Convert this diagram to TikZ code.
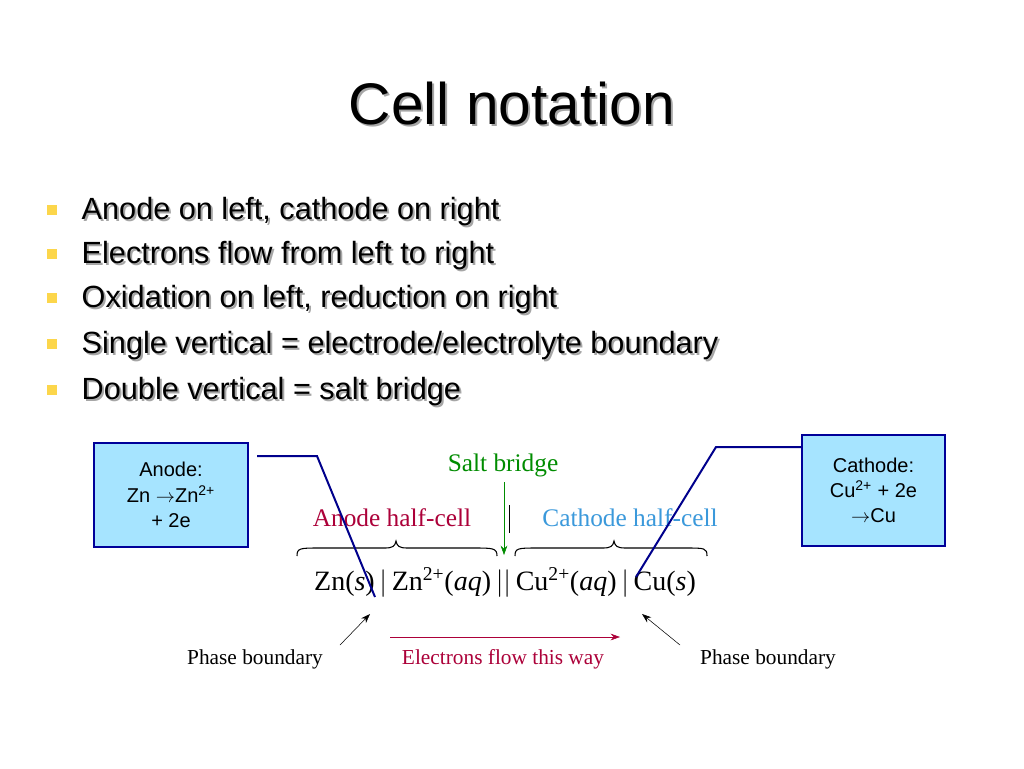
\documentclass[tikz,border=0pt]{standalone}
\usepackage{fontspec}
\setmainfont{Liberation Sans}
\newfontfamily\serifd{Liberation Serif}
\usetikzlibrary{arrows.meta}
\newcommand{\bulline}[3]{%
  \node[sq] (s#1) at (52,#2-2) {};
  \node[bul,shad] at (79,#2+1.5) {#3};
  \node[bul] (b#1) at (77,#2) {#3};}
\begin{document}
\begin{tikzpicture}[x=0.75pt,y=-0.75pt,>={Stealth[length=7pt,width=5pt]},
  shad/.style={text=black!35},
  bul/.style={anchor=west,font=\fontsize{23}{26}\selectfont},
  sq/.style={fill=yellow!60!orange!70,draw=none,minimum size=7pt,inner sep=0pt},
  box/.style={draw=blue!60!black,line width=1.5pt,fill=blue!30!cyan!35,align=center,font=\fontsize{15}{19}\selectfont,inner sep=0pt},
  conn/.style={draw=blue!55!black,line width=1.5pt},
  dtext/.style={font=\serifd\fontsize{21}{24}\selectfont},
  stext/.style={font=\serifd\fontsize{16}{19}\selectfont}]
\useasboundingbox (0,0) rectangle (1024,768);
\fill[white] (0,0) rectangle (1024,768);
\node[shad,font=\fontsize{44}{50}\selectfont] at (514,106) {Cell notation};
\node[font=\fontsize{44}{50}\selectfont] (title) at (512,104) {Cell notation};
\bulline{1}{212}{Anode on left, cathode on right}
\bulline{2}{256}{Electrons flow from left to right}
\bulline{3}{300}{Oxidation on left, reduction on right}
\bulline{4}{346}{Single vertical = electrode/electrolyte boundary}
\bulline{5}{392}{Double vertical = salt bridge}
\node[box,minimum width=154*0.75pt,minimum height=104*0.75pt] (an) at (171,495) {Anode:\\Zn $\rightarrow$Zn\textsuperscript{2+}\\+ 2e};
\node[box,minimum width=143*0.75pt,minimum height=111*0.75pt] (ca) at (873.5,490.5) {Cathode:\\Cu\textsuperscript{2+} + 2e\\$\rightarrow$Cu};
\node[dtext] (f) at (505,582) {Zn(\textit{s})\,$|$\,Zn\textsuperscript{2+}(\textit{aq})\,$||$\,Cu\textsuperscript{2+}(\textit{aq})\,$|$\,Cu(\textit{s})};
\node[dtext,font=\serifd\fontsize{19}{22}\selectfont,text=green!55!black] (sb) at (503,465) {Salt bridge};
\node[dtext,font=\serifd\fontsize{19}{22}\selectfont,text=red!75!blue!90!black] (ah) at (392,518) {Anode half-cell};
\node[dtext,font=\serifd\fontsize{19}{22}\selectfont,text=cyan!70!blue!80] (ch) at (630,518) {Cathode half-cell};
\draw (509,505) -- (509,533);
\draw[green!55!black,->] (504,482) -- (504,555);
\draw[thick] (297,556) .. controls (297,548) and (300,548) .. (320,548) -- (385,548) .. controls (393,548) and (395,546) .. (396,541) .. controls (397,546) and (399,548) .. (407,548) -- (473,548) .. controls (493,548) and (497,548) .. (497,556);
\draw[thick] (515,556) .. controls (515,548) and (518,548) .. (538,548) -- (603,548) .. controls (611,548) and (613,546) .. (614,541) .. controls (615,546) and (617,548) .. (625,548) -- (685,548) .. controls (705,548) and (707,548) .. (707,556);
\coordinate (a1) at (257,456); \coordinate (a2) at (317,456); \coordinate (a3) at (375,597);
\coordinate (c1) at (802,447); \coordinate (c2) at (716,447); \coordinate (c3) at (636,577);
\draw[conn] (a1) -- (a2) -- (a3);
\draw[conn] (c1) -- (c2) -- (c3);
\node[stext] (pb1) at (255,659) {Phase boundary};
\node[stext] (pb2) at (768,659) {Phase boundary};
\node[stext,text=red!75!blue!90!black] (el) at (503,659) {Electrons flow this way};
\draw[->] (340,645) -- (370,614);
\draw[->] (680,645) -- (642,614);
\draw[->,red!75!blue!90!black] (390,637) -- (620,637);
\end{tikzpicture}
\end{document}
